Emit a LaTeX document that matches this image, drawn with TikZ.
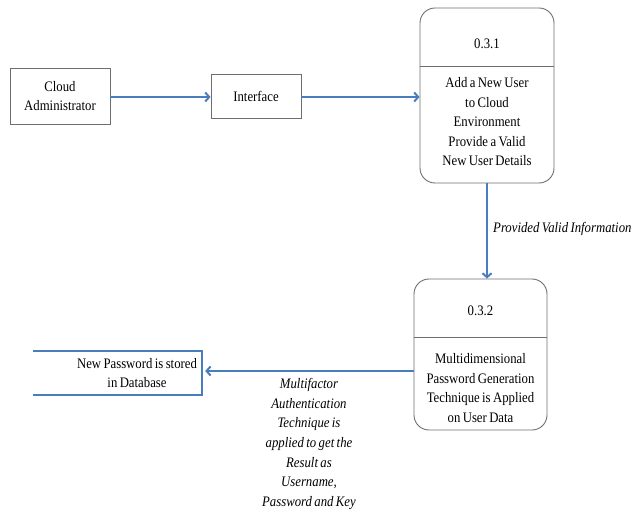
\documentclass[tikz,border=0pt]{standalone}
\usepackage{fontspec}
\setmainfont{Liberation Serif}[FakeStretch=0.88]
\usetikzlibrary{arrows.meta}
\definecolor{flowblue}{HTML}{4A7EBB}
\definecolor{boxgray}{HTML}{6E6E6E}
% tighter word spacing, as in the diagram labels
\newcommand\tightwords{\spaceskip=2.4pt plus 1pt minus 0.5pt\relax}
\begin{document}
\begin{tikzpicture}[x=1pt,y=-1pt,
  every node/.style={font=\fontsize{14.5}{19.5}\selectfont\tightwords, align=center, inner sep=0pt},
  entity/.style={draw=boxgray, line width=0.9pt, minimum width=#1},
  process/.style={draw=boxgray, line width=0.9pt, rounded corners=15pt},
  flow/.style={draw=flowblue, line width=2pt, -{Straight Barb[length=4pt,width=9pt]}},
  store/.style={draw=flowblue, line width=2pt},
  flowlabel/.style={font=\fontsize{14.5}{19.6}\selectfont\itshape\tightwords}]
\useasboundingbox (0,0) rectangle (636,510);

% external entity and interface
\node[entity=100pt, minimum height=56pt] (ca) at (60,96) {Cloud\\Administrator};
\node[entity=90pt, minimum height=44pt] (intf) at (256,96) {Interface};

% process 0.3.1
\node[process, minimum width=134pt, minimum height=175pt] (p1) at (487,95.5) {};
\draw[boxgray, line width=0.9pt] (p1.west |- 0,66) -- (p1.east |- 0,66);
\node (p1id) at (487,44) {0.3.1};
\node (p1txt) at (487,122) {Add a New User\\to Cloud\\Environment\\Provide a Valid\\New User Details};

% process 0.3.2
\node[process, minimum width=133pt, minimum height=151pt] (p2) at (480.5,354.5) {};
\draw[boxgray, line width=0.9pt] (p2.west |- 0,337) -- (p2.east |- 0,337);
\node (p2id) at (480.5,311) {0.3.2};
\node (p2txt) at (480.5,388) {Multidimensional\\Password Generation\\Technique is Applied\\on User Data};

% data store, open on the left
\node[minimum width=169pt, minimum height=44pt] (ds) at (117.5,373) {};
\draw[store] (ds.north west) -- (ds.north east) -- (ds.south east) -- (ds.south west);
\node (dstxt) at (137,373) {New Password is stored\\in Database};

% data flows
\draw[flow] (ca.east |- 0,97) -- (intf.west |- 0,97);
\draw[flow] (intf.east |- 0,97) -- (p1.west |- 0,97);
\draw[flow] (p1.south) -- (p1.south |- p2.north);
\draw[flow, shorten >=3pt] (p2.west |- 0,371) -- (ds.east |- 0,371);

% flow labels
\node[flowlabel, anchor=west] (lbl1) at (493,229) {Provided Valid Information};
\node[flowlabel] (lbl2) at (309,444) {Multifactor\\Authentication\\Technique is\\applied to get the\\Result as\\Username,\\Password and Key};
\end{tikzpicture}
\end{document}
